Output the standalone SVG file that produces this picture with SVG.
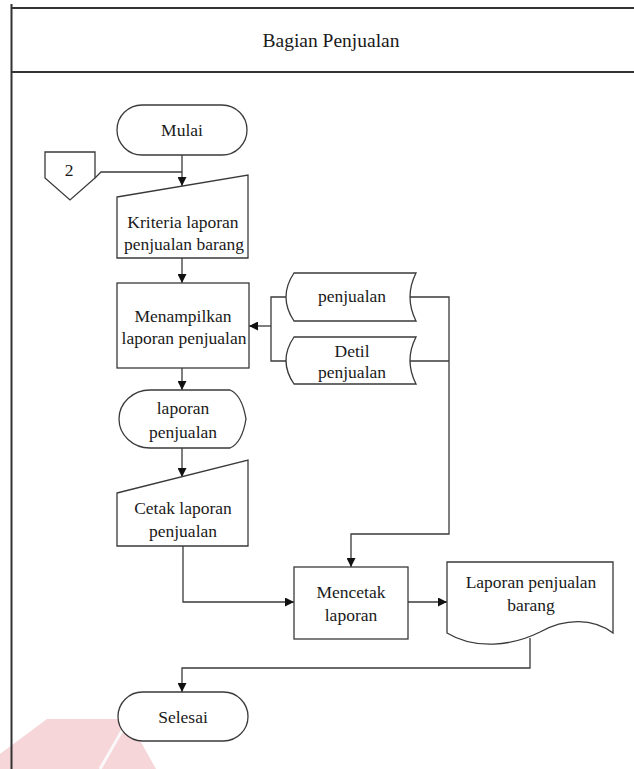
<svg xmlns="http://www.w3.org/2000/svg" width="634" height="769" viewBox="0 0 634 769">
  <defs>
    <marker id="arrow" viewBox="0 0 10 10" refX="10" refY="5" markerWidth="9" markerHeight="9" markerUnits="userSpaceOnUse" orient="auto">
      <path d="M0,0 L10,5 L0,10 Z" fill="#111"/>
    </marker>
    <style>
      .shape { fill: #fff; stroke: #3a3a3a; stroke-width: 1.3; }
      .edge { fill: none; stroke: #3a3a3a; stroke-width: 1.3; }
      .frame { fill: none; stroke: #333; stroke-width: 2; }
      .label { font-family: 'Liberation Serif', 'DejaVu Serif', serif; font-size: 17.5px; fill: #1a1a1a; text-anchor: middle; }
      .title { font-size: 19.5px; }
    </style>
  </defs>

  <rect width="634" height="769" fill="#fff"/>

  <!-- faint logo mark near the bottom edge -->
  <g id="watermark" opacity="0.4">
    <polygon points="47,719 128,719 156,769 0,769 0,754" fill="#e99aa0"/>
    <line x1="127" y1="722" x2="100" y2="769" stroke="#f4f0f0" stroke-width="3"/>
  </g>

  <!-- swimlane frame -->
  <g id="lane">
    <line class="frame" x1="11.5" y1="4" x2="11.5" y2="769"/>
    <line class="frame" x1="11" y1="8" x2="634" y2="8"/>
    <line class="frame" x1="11" y1="72" x2="634" y2="72"/>
    <text class="label title" x="331" y="47">Bagian Penjualan</text>
  </g>

  <!-- connectors -->
  <g id="connectors">
    <line class="edge" x1="182" y1="155" x2="182" y2="186" marker-end="url(#arrow)"/>
    <polyline class="edge" points="95,178 101,172 182,172"/>
    <line class="edge" x1="182" y1="258" x2="182" y2="283" marker-end="url(#arrow)"/>
    <polyline class="edge" points="286,297 271,297 271,361 286,361"/>
    <line class="edge" x1="271" y1="326" x2="249" y2="326" marker-end="url(#arrow)"/>
    <polyline class="edge" points="410,297 449,297 449,534 351,534 351,567" marker-end="url(#arrow)"/>
    <line class="edge" x1="410" y1="361" x2="449" y2="361"/>
    <line class="edge" x1="182" y1="368" x2="182" y2="390" marker-end="url(#arrow)"/>
    <line class="edge" x1="182" y1="448" x2="182" y2="477" marker-end="url(#arrow)"/>
    <polyline class="edge" points="183,546 183,602 294,602" marker-end="url(#arrow)"/>
    <line class="edge" x1="408" y1="602" x2="447" y2="602" marker-end="url(#arrow)"/>
    <polyline class="edge" points="530,638 530,668 182,668 182,692" marker-end="url(#arrow)"/>
  </g>

  <g id="mulai">
    <rect class="shape" x="117" y="105" width="130" height="50" rx="25"/>
    <text class="label" x="182" y="136">Mulai</text>
  </g>

  <g id="offpage-2">
    <path class="shape" d="M45,152 H95 V178 L70,200 L45,178 Z"/>
    <text class="label" x="69" y="176">2</text>
  </g>

  <g id="kriteria">
    <path class="shape" d="M117,197 L248,175 L248,258 L117,258 Z"/>
    <text class="label" x="183" y="228">Kriteria laporan</text>
    <text class="label" x="184" y="250">penjualan barang</text>
  </g>

  <g id="menampilkan">
    <rect class="shape" x="117" y="283" width="132" height="85"/>
    <text class="label" x="183" y="322">Menampilkan</text>
    <text class="label" x="184" y="344">laporan penjualan</text>
  </g>

  <g id="db-penjualan">
    <path class="shape" d="M294,273 L416,273 Q404,297 416,321 L294,321 Q278,297 294,273 Z"/>
    <text class="label" x="352" y="302">penjualan</text>
  </g>

  <g id="db-detil">
    <path class="shape" d="M294,337 L416,337 Q404,360.5 416,384 L294,384 Q278,360.5 294,337 Z"/>
    <text class="label" x="352" y="357">Detil</text>
    <text class="label" x="352" y="378">penjualan</text>
  </g>

  <g id="display-laporan">
    <path class="shape" d="M150,390 L230,390 Q242,395 246,419 Q242,443 230,448 L150,448 A31,29 0 0 1 150,390 Z"/>
    <text class="label" x="183" y="414">laporan</text>
    <text class="label" x="183" y="438">penjualan</text>
  </g>

  <g id="cetak">
    <path class="shape" d="M117,493 L248,460 L248,546 L117,546 Z"/>
    <text class="label" x="183" y="514">Cetak laporan</text>
    <text class="label" x="183" y="537">penjualan</text>
  </g>

  <g id="mencetak">
    <rect class="shape" x="294" y="567" width="114" height="72"/>
    <text class="label" x="351" y="598">Mencetak</text>
    <text class="label" x="351" y="621">laporan</text>
  </g>

  <g id="dokumen">
    <path class="shape" d="M447,562 H613 V633 C593,618 565,618 540,632 C512,646 475,650 447,633 Z"/>
    <text class="label" x="531" y="588">Laporan penjualan</text>
    <text class="label" x="531" y="611">barang</text>
  </g>

  <g id="selesai">
    <rect class="shape" x="118" y="692" width="130" height="49" rx="24.5"/>
    <text class="label" x="183" y="723">Selesai</text>
  </g>
</svg>
